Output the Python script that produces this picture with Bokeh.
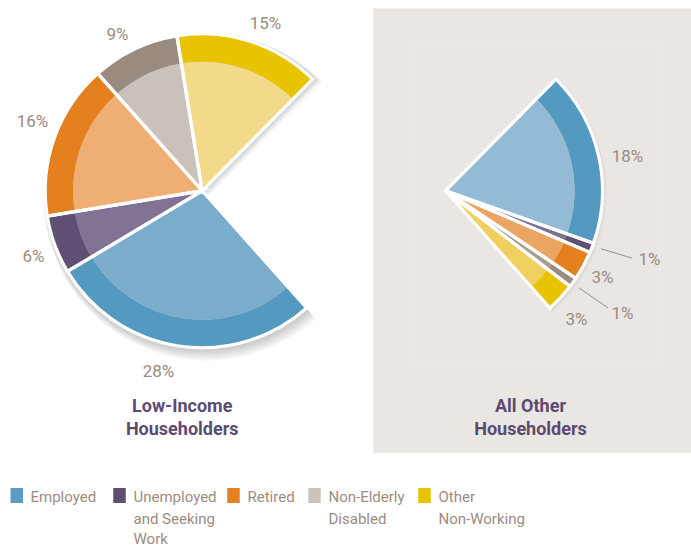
import numpy as np
from bokeh.plotting import figure
from bokeh.models import Range1d, ColumnDataSource
from bokeh.core.properties import value
from bokeh.embed import file_html
from bokeh.resources import INLINE

# ---------------- data ----------------
categories = ["Employed", "Unemployed and Seeking Work", "Retired",
              "Non-Elderly Disabled", "Other Non-Working"]
low_income = [28, 6, 16, 9, 15]      # % of all householders
all_other = [18, 1, 3, 1, 3]         # % of all householders
legend_lines = [["Employed"], ["Unemployed", "and Seeking", "Work"], ["Retired"],
                ["Non-Elderly", "Disabled"], ["Other", "Non-Working"]]
chart_titles = [["Low-Income", "Householders"], ["All Other", "Householders"]]

# ---------------- style ----------------
FONT = "Roboto"
outer_colors = ["#5499BF", "#5F5073", "#E5801E", "#998B7F", "#E8C300"]
inner_left = ["#7AADCC", "#817394", "#EEAE74", "#C9C1BA", "#F3DA8B"]
inner_right = ["#94BBD5", "#7E7092", "#ECA462", "#A99C90", "#EFCF5E"]
legend_colors = ["#5A9DC3", "#5F5073", "#E5801E", "#CBC4BD", "#E8C300"]
LABEL_C = "#9B8C80"
TITLE_C = "#5C4B70"
PANEL_C = "#EAE6E3"

W, H = 691, 546


def Y(py):
    return 546 - py


p = figure(width=W, height=H, x_range=Range1d(0, 691), y_range=Range1d(0, 546),
           output_backend="svg", toolbar_location=None,
           x_axis_location=None, y_axis_location=None, min_border=0)
p.outline_line_color = None
p.grid.visible = False
p.background_fill_color = "white"
p.border_fill_color = "white"

# right panel
p.quad(left=373, right=691, top=Y(8), bottom=Y(452.5), fill_color=PANEL_C, line_color=None)
p.quad(left=412, right=659, top=Y(43.5), bottom=Y(365.5), fill_color=None,
       line_color="#EEEBE8", line_width=1)

R = 157
RI = 129
A0 = -48.3  # degrees, start of the first slice; slices run clockwise
CY = Y(190.3)
centers = [201.7, 445.0]


def slice_angles(vals, start):
    vals = np.array(vals, dtype=float)
    cum = np.concatenate([[0], np.cumsum(vals)[:-1]])
    s = start - cum * 3.6
    e = s - vals * 3.6
    return np.radians(s), np.radians(e)


ls, le = slice_angles(low_income, A0)
rs, re = slice_angles(all_other, A0 - sum(low_income) * 3.6)

# soft shadow for left pie
for k in range(1, 8):
    p.wedge(x=centers[0] + k * 0.7, y=CY - k * 0.9, radius=R + 1 + k * 0.8,
            start_angle=ls, end_angle=le, direction="clock",
            fill_color="black", fill_alpha=0.03, line_color=None)
for k in range(1, 4):
    p.wedge(x=centers[1] + k * 0.6, y=CY - k * 0.8, radius=R + 1 + k * 0.6,
            start_angle=rs, end_angle=re, direction="clock",
            fill_color="black", fill_alpha=0.02, line_color=None)

for cx, s, e, inner in [(centers[0], ls, le, inner_left), (centers[1], rs, re, inner_right)]:
    src = ColumnDataSource(dict(s=s, e=e, oc=outer_colors, ic=inner))
    p.annular_wedge(x=cx, y=CY, inner_radius=RI, outer_radius=R, start_angle="s",
                    end_angle="e", direction="clock", fill_color="oc", line_color=None,
                    source=src)
    p.wedge(x=cx, y=CY, radius=RI, start_angle="s", end_angle="e", direction="clock",
            fill_color="ic", line_color=None, source=src)
    p.wedge(x=cx, y=CY, radius=R, start_angle="s", end_angle="e", direction="clock",
            fill_color=None, line_color="white", line_width=3.2, line_join="miter",
            source=src)

# percentage labels
left_label_pos = [(158, 370), (33, 255), (32, 120), (117, 33), (265, 22)]
right_label_pos = [(627, 155), (649, 258), (602, 276), (622, 312), (576, 318)]
for vals, pos in [(low_income, left_label_pos), (all_other, right_label_pos)]:
    p.text(x=[q[0] for q in pos], y=[Y(q[1]) for q in pos], text=[f"{v}%" for v in vals],
           text_font=value(FONT), text_font_size="17px", text_color=LABEL_C,
           text_align="center", text_baseline="middle")

# leader lines for the small right slices
p.segment(x0=[600.7, 578.3], y0=[Y(248.3), Y(287.3)], x1=[631.7, 607.3],
          y1=[Y(257.7), Y(307.3)], line_color=LABEL_C, line_width=1)

# chart titles
for cx, lines in zip([181.7, 530.0], chart_titles):
    p.text(x=[cx, cx], y=[Y(405), Y(428)], text=lines, text_font=value(FONT),
           text_font_style="bold", text_font_size="18px", text_color=TITLE_C,
           text_align="center", text_baseline="middle")

# legend
sq_x = [16.3, 119.0, 233.0, 314.0, 424.0]
tx_x = [30, 133, 247, 328, 438]
line_y = [496, 518, 538]
p.rect(x=sq_x, y=[Y(495)] * 5, width=12.5, height=15, fill_color=legend_colors,
       line_color=None)
for tx, lines in zip(tx_x, legend_lines):
    p.text(x=[tx] * len(lines), y=[Y(line_y[i]) for i in range(len(lines))], text=lines,
           text_font=value(FONT), text_font_size="15px", text_color=LABEL_C,
           text_align="left", text_baseline="middle")

open("out.html", "w").write(file_html(p, INLINE))
